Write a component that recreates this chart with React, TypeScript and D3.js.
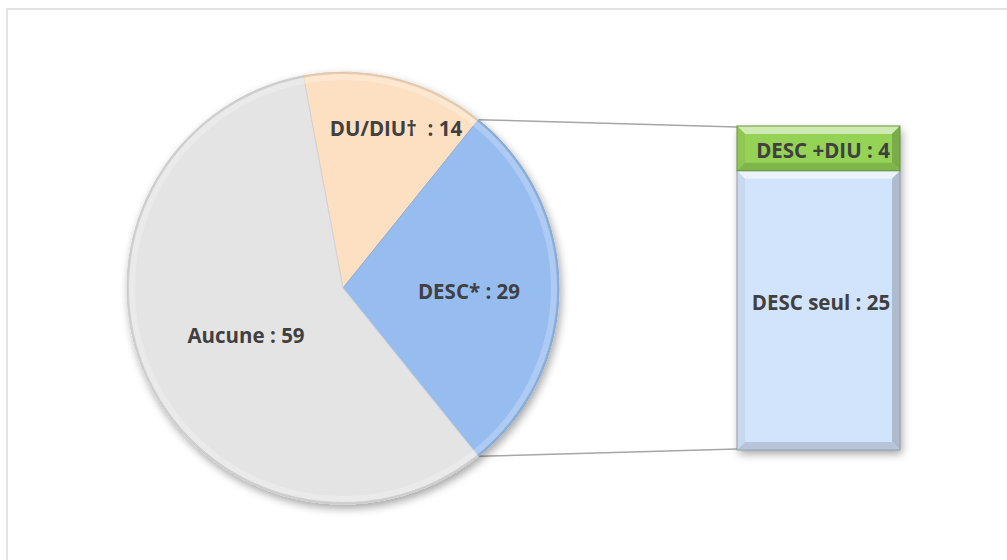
import React from "react";
import * as d3 from "d3";

const pieLabels = ["DU/DIU†  : 14", "DESC* : 29", "Aucune : 59"];
const pieValues = [14, 29, 59];
const pieColors = ["#fddfc1", "#97bdf0", "#e4e4e4"];
const splitIndex = 1;

const barLabels = ["DESC seul : 25", "DESC +DIU : 4"];
const barValues = [25, 4];
const barColors = ["#d2e4fb", "#95d356"];

const W = 1007, H = 560;
const cx = 343, cy = 288, R = 216;
const barX0 = 737, barX1 = 900, barTop = 126, barBottom = 450;

function shade(c: string, k: number) {
  const col = d3.rgb(c);
  return k > 0 ? d3.interpolateRgb(col, "#ffffff")(k).toString() : d3.interpolateRgb(col, "#000000")(-k).toString();
}

export default function App() {
  const total = d3.sum(pieValues);
  const before = d3.sum(pieValues.slice(0, splitIndex)) + pieValues[splitIndex] / 2;
  const start = Math.PI / 2 - (before / total) * 2 * Math.PI;
  const pie = d3.pie<number>().sort(null).startAngle(start).endAngle(start + 2 * Math.PI);
  const arcs = pie(pieValues);
  const arc = d3.arc<d3.PieArcDatum<number>>().innerRadius(0).outerRadius(R);
  const rimLight = d3.arc<d3.PieArcDatum<number>>().innerRadius(R - 8).outerRadius(R - 1.5);
  const rimDark = d3.arc<d3.PieArcDatum<number>>().innerRadius(R - 2).outerRadius(R);
  const split = arcs[splitIndex];
  const pt = (a: number) => [cx + R * Math.sin(a), cy - R * Math.cos(a)];
  const [sx0, sy0] = pt(split.startAngle);
  const [sx1, sy1] = pt(split.endAngle);

  const y = d3.scaleLinear().domain([0, d3.sum(barValues)]).range([barBottom, barTop]);
  let acc = 0;
  const segs = barValues.map((v, i) => {
    const s = { y0: y(acc + v), y1: y(acc), c: barColors[i], label: barLabels[i] };
    acc += v;
    return s;
  });
  const labelPos: [number, number][] = [
    [396, 128],
    [469, 291],
    [246, 335],
  ];
  const bev = 8;
  const font = "'Open Sans', Lato, sans-serif";
  const fs = 20.5;

  return (
    <svg width={W} height={H} style={{ position: "absolute", left: 0, top: 0, background: "#fff" }}>
      <defs>
        <filter id="sh" x="-20%" y="-20%" width="140%" height="140%">
          <feDropShadow dx="2" dy="4" stdDeviation="4" floodColor="#000" floodOpacity="0.35" />
        </filter>
      </defs>
      <rect x={7} y={9} width={W} height={H} fill="none" stroke="#d9d9d9" strokeWidth={1.5} />
      <line x1={sx0} y1={sy0} x2={barX0} y2={barTop + 1} stroke="#a6a6a6" strokeWidth={1.5} />
      <line x1={sx1} y1={sy1} x2={barX0} y2={barBottom - 1} stroke="#a6a6a6" strokeWidth={1.5} />
      <g transform={`translate(${cx},${cy})`} filter="url(#sh)">
        {arcs.map((a, i) => (
          <path key={i} d={arc(a) || ""} fill={pieColors[i]} stroke={shade(pieColors[i], -0.08)} strokeWidth={1} />
        ))}
      </g>
      <g transform={`translate(${cx},${cy})`}>
        {arcs.map((a, i) => (
          <path key={"l" + i} d={rimLight(a) || ""} fill={shade(pieColors[i], 0.4)} opacity={0.55} />
        ))}
        {arcs.map((a, i) => (
          <path key={"d" + i} d={rimDark(a) || ""} fill={shade(pieColors[i], -0.15)} opacity={0.6} />
        ))}
      </g>
      <g filter="url(#sh)">
        {segs.map((s, i) => (
          <rect key={i} x={barX0} y={s.y0} width={barX1 - barX0} height={s.y1 - s.y0} fill={s.c} />
        ))}
      </g>
      {segs.map((s, i) => {
        const x0 = barX0, x1 = barX1, y0 = s.y0, y1 = s.y1;
        return (
          <g key={i}>
            <polygon points={`${x0},${y0} ${x1},${y0} ${x1 - bev},${y0 + bev} ${x0 + bev},${y0 + bev}`} fill={shade(s.c, 0.55)} />
            <polygon points={`${x0},${y0} ${x0 + bev},${y0 + bev} ${x0 + bev},${y1 - bev} ${x0},${y1}`} fill={shade(s.c, -0.05)} />
            <polygon points={`${x1},${y0} ${x1 - bev},${y0 + bev} ${x1 - bev},${y1 - bev} ${x1},${y1}`} fill={shade(s.c, -0.18)} />
            <polygon points={`${x0},${y1} ${x1},${y1} ${x1 - bev},${y1 - bev} ${x0 + bev},${y1 - bev}`} fill={shade(s.c, -0.14)} />
            <rect x={x0} y={y0} width={x1 - x0} height={y1 - y0} fill="none" stroke={shade(s.c, -0.3)} strokeWidth={1} />
          </g>
        );
      })}
      {arcs.map((a, i) => (
        <text key={i} x={labelPos[i][0]} y={labelPos[i][1]} textAnchor="middle" dominantBaseline="central"
          fontFamily={font} fontWeight="bold" fontSize={fs} fill="#404040" style={{ whiteSpace: "pre" }}>
          {pieLabels[i]}
        </text>
      ))}
      <text x={823} y={150} textAnchor="middle" dominantBaseline="central" fontFamily={font} fontWeight="bold" fontSize={fs} fill="#404040">
        {segs[1].label}
      </text>
      <text x={821} y={302} textAnchor="middle" dominantBaseline="central" fontFamily={font} fontWeight="bold" fontSize={fs} fill="#404040">
        {segs[0].label}
      </text>
    </svg>
  );
}
